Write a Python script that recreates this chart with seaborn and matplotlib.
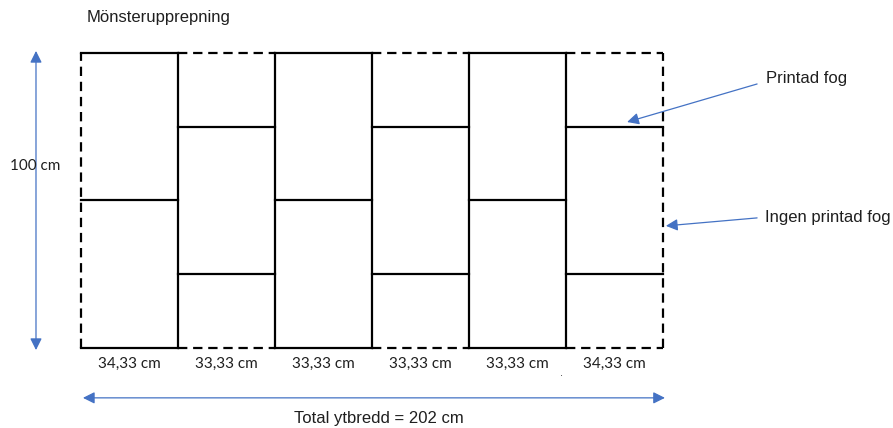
import numpy as np
import pandas as pd
import matplotlib
matplotlib.use("Agg")
import matplotlib.pyplot as plt
import seaborn as sns

# ---------------- data ----------------
col_labels = ["34,33 cm", "33,33 cm", "33,33 cm", "33,33 cm", "33,33 cm", "34,33 cm"]
edge_kind = ["solid", "dashed", "solid", "dashed", "solid", "dashed"]   # top/bottom edge of each column
joint_heights = [[50], [25, 75], [50], [25, 75], [50], [25, 75]]        # printed joints (cm from bottom)
panel_height = 100
height_label = "100 cm"
total_label = "Total ytbredd = 202 cm"
title_label = "Mönsterupprepning"
printed_label = "Printad fog"
unprinted_label = "Ingen printad fog"

# ---------------- build segments ----------------
n_cols = len(col_labels)
rows = []
seg_id = [0]


def add(x0, y0, x1, y1, kind):
    s = seg_id[0]
    rows.append(dict(seg=s, x=x0, y=y0, kind=kind))
    rows.append(dict(seg=s, x=x1, y=y1, kind=kind))
    seg_id[0] += 1


for i in range(n_cols):
    add(i, panel_height, i + 1, panel_height, edge_kind[i])   # top edge
    add(i, 0, i + 1, 0, edge_kind[i])                         # bottom edge
    for h in joint_heights[i]:
        add(i, h, i + 1, h, "solid")                          # printed joints
for i in range(1, n_cols):
    add(i, 0, i, panel_height, "solid")                       # inner vertical joints
add(0, 0, 0, panel_height, "dashed")                          # outer edges (no printed joint)
add(n_cols, 0, n_cols, panel_height, "dashed")
segs = pd.DataFrame(rows)

# ---------------- figure ----------------
sns.set_theme(style="white")
plt.rcParams["font.family"] = ["Liberation Sans", "DejaVu Sans"]

W, H = 893, 428
fig = plt.figure(figsize=(W / 100, H / 100), dpi=100)
fig.patch.set_facecolor("white")
ax = fig.add_axes([81 / W, 80 / H, 582 / W, 295 / H])
ax.set_facecolor("white")

styles = {"solid": "-", "dashed": (0, (4.2, 2.6))}
order = ["dashed", "solid"]
for kind in order:
    sub = segs[segs["kind"] == kind]
    sns.lineplot(data=sub, x="x", y="y", units="seg", estimator=None, sort=False,
                 color="black", linewidth=1.6, linestyle=styles[kind],
                 solid_capstyle="projecting", dash_capstyle="butt",
                 clip_on=False, legend=False, ax=ax)

ax.set_xlim(0, n_cols)
ax.set_ylim(0, panel_height)
ax.axis("off")

blue = "#4472C4"
txt = "#1f1f1f"
calibri_like = ["Lato", "DejaVu Sans"]

# width labels
for i, lab in enumerate(col_labels):
    ax.text(i + 0.5, -5.3, lab, ha="center", va="center", fontsize=11,
            family=calibri_like, color=txt)

# stray dot under the fifth column
ax.text(4.95, -8.6, ".", ha="center", va="center", fontsize=8, color="#333333")

# vertical dimension arrow
ax.annotate("", xy=(-0.464, panel_height + 0.7), xytext=(-0.464, -0.7),
            arrowprops=dict(arrowstyle="<|-|>,head_length=0.7,head_width=0.35",
                            color=blue, lw=0.9, shrinkA=0, shrinkB=0,
                            mutation_scale=10), annotation_clip=False)
ax.text(-0.475, 61.7, height_label, ha="center", va="center", fontsize=11,
        family=calibri_like, color=txt)

# horizontal total-width arrow
ax.annotate("", xy=(n_cols + 0.02, -16.9), xytext=(0.02, -16.9),
            arrowprops=dict(arrowstyle="<|-|>,head_length=0.7,head_width=0.35",
                            color=blue, lw=0.9, shrinkA=0, shrinkB=0,
                            mutation_scale=10), annotation_clip=False)
ax.text(3.07, -23.8, total_label, ha="center", va="center", fontsize=12, color=txt)

# title
ax.text(0.06, 112.2, title_label, ha="left", va="center", fontsize=12, color=txt)

# callouts
ax.text(7.06, 91.5, printed_label, ha="left", va="center", fontsize=12, color=txt)
ax.annotate("", xy=(5.63, 76.6), xytext=(6.97, 89.5),
            arrowprops=dict(arrowstyle="-|>,head_length=0.7,head_width=0.35",
                            color=blue, lw=0.9, shrinkA=0, shrinkB=0,
                            mutation_scale=10), annotation_clip=False)
ax.text(7.05, 44.4, unprinted_label, ha="left", va="center", fontsize=12, color=txt)
ax.annotate("", xy=(6.03, 41.4), xytext=(6.97, 44.1),
            arrowprops=dict(arrowstyle="-|>,head_length=0.7,head_width=0.35",
                            color=blue, lw=0.9, shrinkA=0, shrinkB=0,
                            mutation_scale=10), annotation_clip=False)

fig.savefig("out.png", dpi=100, facecolor="white")
